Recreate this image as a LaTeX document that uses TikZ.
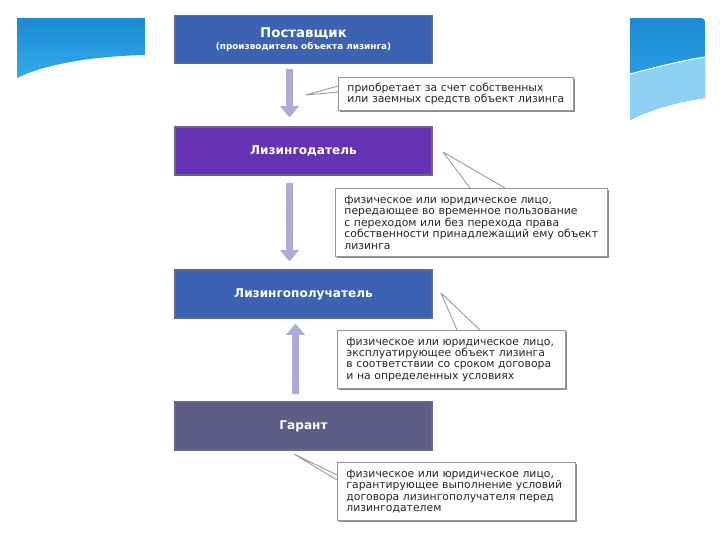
\documentclass[tikz,border=0pt]{standalone}
\usepackage{fontspec}
\setmainfont{DejaVu Sans}
\usetikzlibrary{arrows.meta,positioning,calc,shadows,backgrounds}
\definecolor{supplierBlue}{RGB}{60,99,178}
\definecolor{lessorPurple}{RGB}{101,50,180}
\definecolor{guarantorSlate}{RGB}{93,93,136}
\definecolor{edgeDark}{RGB}{30,40,90}
\definecolor{arrowLav}{RGB}{172,172,214}
\definecolor{noteGray}{RGB}{150,150,150}
\definecolor{skyDark}{RGB}{28,138,212}
\definecolor{skyLight}{RGB}{50,172,236}
\tikzset{
  role box/.style={draw=edgeDark!70,line width=0.8pt,text=white,font=\fontsize{8.6}{10}\selectfont\bfseries,align=center,minimum width=6.425cm,minimum height=1.2cm,inner sep=0pt},
  note box/.style={draw=noteGray,fill=white,line width=0.6pt,text=black!85,font=\fontsize{7.7}{8.1}\selectfont,align=left,anchor=north west,inner xsep=0.225cm,inner ysep=0pt,drop shadow={shadow xshift=0.8pt,shadow yshift=-0.8pt,fill=black!45,opacity=1}},
  note tail/.style={draw=noteGray,fill=white,line width=0.6pt,line join=round},
  flow arrow/.style={-{Triangle[width=13pt,length=8pt]},line width=4.3pt,draw=arrowLav}
}
\begin{document}
\begin{tikzpicture}[x=0.025cm,y=-0.025cm]
  \useasboundingbox (0,0) rectangle (720,540);
  % corner decorations
  \shade[top color=skyDark,bottom color=skyLight] (17,78) -- (17,18) -- (145,18) -- (145,55) .. controls (95,56) and (45,64) .. (17,78) -- cycle;
  \shade[top color=skyDark,bottom color=skyLight] (630,120) -- (630,18) -- (696,18) .. controls (705,18) .. (705,27) -- (705,98) .. controls (675,102) and (650,110) .. (630,120) -- cycle;
  \fill[skyLight!55!white] (630,74) .. controls (660,66) and (685,60) .. (705,57) -- (705,98) .. controls (675,102) and (650,110) .. (630,120) -- cycle;
  \draw[white,line width=0.7pt] (630,74) .. controls (660,66) and (685,60) .. (705,57);

  \node[role box,fill=supplierBlue] (supplier) at (303.5,39.5) {\fontsize{9.5}{10}\selectfont Поставщик\\[-2pt]{\fontsize{6.3}{7}\selectfont(производитель объекта лизинга)}};
  \node[role box,fill=lessorPurple] (lessor) at (303.5,151) {Лизингодатель};
  \node[role box,fill=supplierBlue] (lessee) at (303.5,294) {Лизингополучатель};
  \node[role box,fill=guarantorSlate] (guarantor) at (303.5,426) {Гарант};

  \draw[flow arrow] ($(supplier.south)+(-14,5)$) -- ($(lessor.north)+(-14,-9)$);
  \draw[flow arrow] ($(lessor.south)+(-14,7)$) -- ($(lessee.north)+(-14,-8)$);
  \draw[flow arrow] ($(guarantor.north)+(-8,-7)$) -- ($(lessee.south)+(-8,5)$);

  \node[note box,text width=5.425cm,minimum height=0.825cm] (note1) at (338,77) {приобретает за счет собственных\\или заемных средств объект лизинга};
  \node[note box,text width=6.35cm,minimum height=1.7cm] (note2) at (335,188) {физическое или юридическое лицо,\\передающее во временное пользование\\с переходом или без перехода права\\собственности принадлежащий ему объект\\лизинга};
  \node[note box,text width=5.25cm,minimum height=1.45cm] (note3) at (337,330) {физическое или юридическое лицо,\\эксплуатирующее объект лизинга\\в соответствии со сроком договора\\и на определенных условиях};
  \node[note box,text width=5.5cm,minimum height=1.45cm] (note4) at (337,462) {физическое или юридическое лицо,\\гарантирующее выполнение условий\\договора лизингополучателя перед\\лизингодателем};

  \coordinate (tip1) at (306,95);
  \coordinate (tip2) at (443,152);
  \coordinate (tip3) at (441,293);
  \coordinate (tip4) at (294,454);
  \begin{scope}[on background layer]
    \filldraw[note tail] ($(note1.north west)+(0,9)$) -- (tip1) -- ($(note1.north west)+(0,15)$);
    \filldraw[note tail] ($(note2.north west)+(135,0)$) -- (tip2) -- ($(note2.north west)+(170,0)$);
    \filldraw[note tail] ($(note3.north west)+(120,0)$) -- (tip3) -- ($(note3.north west)+(143,0)$);
    \filldraw[note tail] ($(note4.north west)+(0,13)$) -- (tip4) -- ($(note4.north west)+(0,18)$);
  \end{scope}
\end{tikzpicture}
\end{document}
